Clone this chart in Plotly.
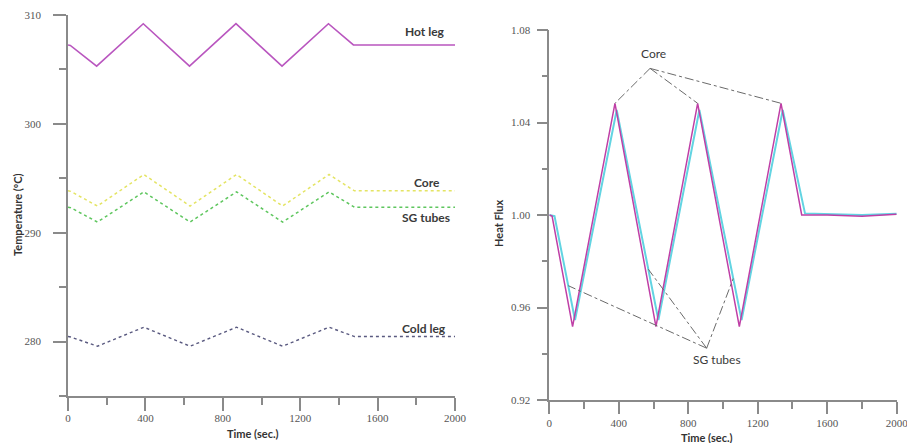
import numpy as np
import plotly.graph_objects as go

W, H = 907, 443

# ---- Temperature panel (left) ----
t_hot = [0, 12, 148, 389, 628, 868, 1106, 1346, 1475, 2000]
hot_leg = [307.25, 307.2, 305.3, 309.2, 305.3, 309.2, 305.3, 309.2, 307.25, 307.25]

t_core = [0, 14, 152, 392, 631, 871, 1109, 1349, 1480, 2000]
core_temp = [293.85, 293.8, 292.45, 295.35, 292.45, 295.35, 292.45, 295.35, 293.85, 293.85]

t_sg = [0, 14, 152, 392, 631, 871, 1109, 1349, 1480, 2000]
sg_temp = [292.35, 292.3, 290.98, 293.75, 290.98, 293.75, 290.98, 293.75, 292.35, 292.35]

t_cold = [0, 14, 152, 392, 631, 871, 1109, 1349, 1480, 2000]
cold_leg = [280.46, 280.42, 279.57, 281.32, 279.57, 281.32, 279.57, 281.32, 280.46, 280.46]

# ---- Heat flux panel (right) ----
t_flux_core = [0, 16, 134, 378, 614, 854, 1094, 1334, 1453, 1600, 1800, 2000]
flux_core = [1.000, 0.9995, 0.9517, 1.0483, 0.9517, 1.0483, 0.9517, 1.0483, 1.000, 1.000, 0.9995, 1.0003]

t_flux_sg = [0, 30, 148, 388, 628, 864, 1107, 1344, 1472, 1600, 1800, 2000]
flux_sg = [1.000, 0.9995, 0.9546, 1.0454, 0.9546, 1.0454, 0.9546, 1.0454, 1.0007, 1.0005, 1.0, 1.0005]

# label anchors (time, value) for the callout lines
core_label_apex = (580, 1.0634)
sg_label_apex = (906, 0.9424)
sg_pointer_times = [109, 570, 1059]

x_ticks = [0, 400, 800, 1200, 1600, 2000]

fig = go.Figure()

fig.add_trace(go.Scatter(x=t_hot, y=hot_leg, mode="lines",
                         line=dict(color="#b956bf", width=1.6), xaxis="x", yaxis="y"))
fig.add_trace(go.Scatter(x=t_core, y=core_temp, mode="lines",
                         line=dict(color="#e4e463", width=1.5, dash="dot"), xaxis="x", yaxis="y"))
fig.add_trace(go.Scatter(x=t_sg, y=sg_temp, mode="lines",
                         line=dict(color="#5ec65e", width=1.5, dash="dot"), xaxis="x", yaxis="y"))
fig.add_trace(go.Scatter(x=t_cold, y=cold_leg, mode="lines",
                         line=dict(color="#5a5a80", width=1.4, dash="dot"), xaxis="x", yaxis="y"))

fig.add_trace(go.Scatter(x=t_flux_sg, y=flux_sg, mode="lines",
                         line=dict(color="#62d4e2", width=2), xaxis="x2", yaxis="y2"))
fig.add_trace(go.Scatter(x=t_flux_core, y=flux_core, mode="lines",
                         line=dict(color="#bf3fa6", width=1.5), xaxis="x2", yaxis="y2"))

# callout lines: Core label -> core peaks
core_peaks = [(t, v) for t, v in zip(t_flux_core, flux_core) if v == max(flux_core)]
for t, v in core_peaks:
    fig.add_trace(go.Scatter(x=[core_label_apex[0], t], y=[core_label_apex[1], v], mode="lines",
                             line=dict(color="#6a6a6a", width=1, dash="dashdot"),
                             xaxis="x2", yaxis="y2"))
# callout lines: SG tubes label -> points on the SG curve
for t in sg_pointer_times:
    v = float(np.interp(t, t_flux_sg, flux_sg))
    fig.add_trace(go.Scatter(x=[sg_label_apex[0], t], y=[sg_label_apex[1], v], mode="lines",
                             line=dict(color="#6a6a6a", width=1, dash="dashdot"),
                             xaxis="x2", yaxis="y2"))

tick_font = dict(family="Liberation Serif", size=11, color="#555")
axis_common = dict(showline=True, linecolor="#8a8a8a", linewidth=1.5, showgrid=False,
                   zeroline=False, ticks="outside", tickcolor="#8a8a8a", tickwidth=1.5,
                   tickfont=tick_font, automargin=False, fixedrange=True,
                   ticklabeloverflow="allow")

fig.update_layout(
    width=W, height=H,
    margin=dict(l=0, r=0, t=0, b=0),
    paper_bgcolor="white", plot_bgcolor="white",
    showlegend=False,
    xaxis=dict(domain=[68 / W, 455 / W], range=[0, 2000], anchor="y",
               tickmode="array", tickvals=x_ticks, ticklen=13, ticklabelstandoff=-2,
               minor=dict(dtick=200, tick0=0, ticklen=7, ticks="outside",
                          tickcolor="#8a8a8a", tickwidth=1.5),
               **axis_common),
    yaxis=dict(domain=[1 - 396 / H, 1 - 15 / H], range=[275, 310], anchor="x",
               tick0=280, dtick=10, ticklen=13, ticklabelstandoff=10,
               minor=dict(dtick=5, tick0=275, ticklen=7, ticks="outside",
                          tickcolor="#8a8a8a", tickwidth=1.5),
               **axis_common),
    xaxis2=dict(domain=[549.3 / W, 896.7 / W], range=[0, 2000], anchor="y2",
                tickmode="array", tickvals=x_ticks, ticklen=12,
                minor=dict(dtick=200, tick0=0, ticklen=7, ticks="outside",
                           tickcolor="#8a8a8a", tickwidth=1.5),
                **axis_common),
    yaxis2=dict(domain=[1 - 400 / H, 1 - 30 / H], range=[0.92, 1.08], anchor="x2",
                tick0=0.92, dtick=0.04, tickformat=".2f", ticklen=11, ticklabelstandoff=4,
                minor=dict(dtick=0.02, tick0=0.92, ticklen=6, ticks="outside",
                           tickcolor="#8a8a8a", tickwidth=1.5),
                **axis_common),
)

title_font = dict(family="Lato", size=11, color="#333")
label_font = dict(family="Lato", size=12, color="#3a3a3a")
centered = dict(xanchor="center", yanchor="middle", showarrow=False)

annotations = [
    dict(text="<b>Time (sec.)</b>", x=253 / W, y=1 - 433 / H, xref="paper", yref="paper",
         font=title_font, **centered),
    dict(text="<b>Time (sec.)</b>", x=707 / W, y=1 - 437 / H, xref="paper", yref="paper",
         font=title_font, **centered),
    dict(text="<b>Temperature (ºC)</b>", x=17 / W, y=1 - 215 / H, xref="paper", yref="paper",
         textangle=-90, font=title_font, **centered),
    dict(text="<b>Heat Flux</b>", x=499 / W, y=1 - 223 / H, xref="paper", yref="paper",
         textangle=-90, font=title_font, **centered),
    # series labels, temperature panel
    dict(text="<b>Hot leg</b>", x=1959, y=308.45, xref="x", yref="y", xanchor="right",
         yanchor="middle", showarrow=False, font=label_font),
    dict(text="<b>Core</b>", x=1933, y=294.6, xref="x", yref="y", xanchor="right",
         yanchor="middle", showarrow=False, font=label_font),
    dict(text="<b>SG tubes</b>", x=1984, y=291.4, xref="x", yref="y", xanchor="right",
         yanchor="middle", showarrow=False, font=label_font),
    dict(text="<b>Cold leg</b>", x=1964, y=281.2, xref="x", yref="y", xanchor="right",
         yanchor="middle", showarrow=False, font=label_font),
    # series labels, heat flux panel
    dict(text="Core", x=597, y=1.0699, xref="x2", yref="y2",
         font=dict(family="Lato", size=12, color="#3a3a3a"), **centered),
    dict(text="SG tubes", x=964, y=0.9373, xref="x2", yref="y2",
         font=dict(family="Lato", size=12, color="#3a3a3a"), **centered),
]
fig.update_layout(annotations=annotations)

fig.write_html("out.html")
